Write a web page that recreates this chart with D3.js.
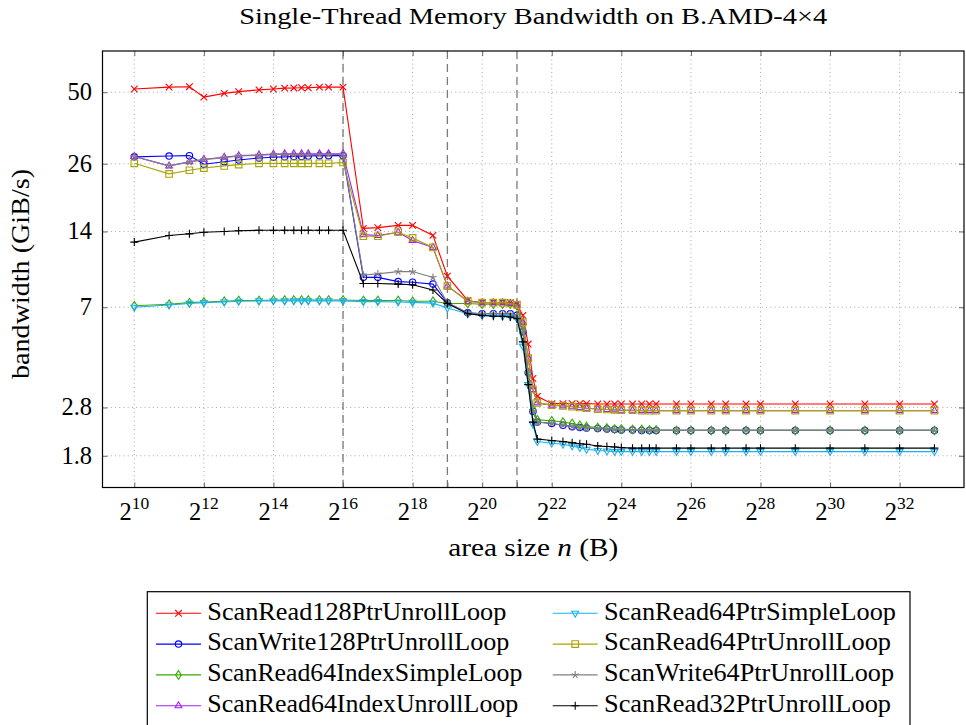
<!DOCTYPE html>
<html><head><meta charset="utf-8">
<script src="https://cdn.jsdelivr.net/npm/d3@7"></script>
<style>
body{margin:0;background:#fff}
svg{display:block}
text{font-family:"Liberation Serif","Times New Roman",serif;fill:#000}
</style>
</head><body>
<svg id="c" width="966" height="725" font-family="Liberation Serif, serif"></svg>
<script>
// ---- data ----
const sizesKiB = [1,2,3,4,6,8,12,16,20,24,28,32,40,48,64,96,128,192,256,384,512,768,1024,1280,1536,1792,2048,2304,2560,2816,3072,4096,5120,6144,7168,8192,10240,12288,14336,16384,20480,24576,28672,32768,49152,65536,98304,131072,196608,262144,524288,1048576,2097152,4194304,8388608];

const scanRead128PtrUnrollLoop = [51.5,52.4,52.6,47.8,49.5,50.3,51.1,51.5,51.9,52.0,
 52.1,52.1,52.4,52.4,52.4,
 14.4,14.5,14.8,14.8,13.5,9.3,7.45,7.3,7.3,7.3,
 7.3,7.2,6.5,5.0,3.65,3.1,
 2.9,2.9,2.9,2.9,2.9,2.89,2.89,2.89,2.89,2.89,
 2.89,2.89,2.89,2.89,2.89,2.89,2.89,2.89,2.89,2.89,
 2.89,2.89,2.89,2.89];
const scanWrite128PtrUnrollLoop = [27.7,27.9,28.0,25.9,26.5,26.9,27.4,27.6,27.7,27.8,
 27.8,27.9,28.0,28.0,28.0,
 9.2,9.2,8.85,8.8,8.65,7.3,6.65,6.6,6.6,6.6,
 6.6,6.5,5.6,3.85,2.7,2.45,
 2.42,2.38,2.35,2.33,2.32,2.31,2.3,2.29,2.28,2.28,
 2.27,2.27,2.27,2.27,2.27,2.27,2.27,2.27,2.27,2.27,
 2.27,2.27,2.27,2.27];
const scanRead64IndexSimpleLoop = [7.1,7.2,7.3,7.35,7.4,7.45,7.45,7.48,7.48,7.48,
 7.48,7.48,7.48,7.48,7.48,
 7.45,7.45,7.45,7.4,7.4,7.25,7.25,7.2,7.2,7.2,
 7.2,7.1,5.7,3.85,2.75,2.5,
 2.48,2.45,2.42,2.38,2.35,2.33,2.32,2.3,2.3,2.29,
 2.29,2.28,2.28,2.27,2.27,2.27,2.27,2.27,2.27,2.27,
 2.27,2.27,2.27,2.27];
const scanRead64IndexUnrollLoop = [27.8,25.5,26.5,27.1,27.6,28.0,28.2,28.4,28.5,28.5,
 28.5,28.5,28.5,28.5,28.5,
 13.6,13.5,13.9,12.9,12.1,8.5,7.4,7.3,7.3,7.3,
 7.25,7.15,6.1,4.4,3.3,2.92,
 2.86,2.84,2.82,2.8,2.78,2.76,2.75,2.74,2.73,2.73,
 2.72,2.72,2.72,2.72,2.72,2.72,2.72,2.72,2.72,2.72,
 2.72,2.72,2.72,2.72];
const scanRead64PtrSimpleLoop = [7.0,7.15,7.25,7.3,7.35,7.4,7.42,7.42,7.42,7.42,
 7.42,7.42,7.42,7.42,7.42,
 7.37,7.37,7.35,7.32,7.27,6.95,6.6,6.5,6.5,6.45,
 6.45,6.3,4.9,3.45,2.4,2.05,
 2.02,2.0,1.97,1.94,1.91,1.89,1.88,1.87,1.87,1.87,
 1.87,1.87,1.87,1.87,1.87,1.87,1.87,1.87,1.87,1.87,
 1.87,1.87,1.87,1.87];
const scanRead64PtrUnrollLoop = [26.1,23.7,24.5,25.0,25.5,25.8,26.1,26.1,26.1,26.1,
 26.1,26.1,26.1,26.1,26.3,
 13.4,13.4,13.9,13.2,12.1,8.5,7.4,7.3,7.3,7.3,
 7.25,7.15,6.1,4.4,3.3,2.92,
 2.86,2.84,2.82,2.8,2.78,2.76,2.75,2.74,2.73,2.73,
 2.72,2.72,2.72,2.72,2.72,2.72,2.72,2.72,2.72,2.72,
 2.72,2.72,2.72,2.72];
const scanWrite64PtrUnrollLoop = [27.8,25.5,26.4,27.0,27.5,27.9,28.1,28.3,28.3,28.3,
 28.3,28.3,28.3,28.3,28.3,
 9.4,9.5,9.7,9.7,9.2,7.3,6.65,6.6,6.6,6.6,
 6.6,6.5,5.6,3.85,2.7,2.45,
 2.42,2.38,2.35,2.33,2.32,2.31,2.3,2.29,2.28,2.28,
 2.27,2.27,2.27,2.27,2.27,2.27,2.27,2.27,2.27,2.27,
 2.27,2.27,2.27,2.27];
const scanRead32PtrUnrollLoop = [12.7,13.5,13.7,13.9,14.0,14.1,14.15,14.15,14.15,14.15,
 14.15,14.15,14.15,14.15,14.15,
 8.7,8.7,8.65,8.6,8.2,7.25,6.6,6.5,6.45,6.45,
 6.4,6.3,5.1,3.45,2.45,2.1,
 2.07,2.05,2.03,2.01,2.0,1.97,1.96,1.95,1.94,1.93,
 1.93,1.93,1.93,1.93,1.93,1.93,1.93,1.93,1.93,1.93,
 1.93,1.93,1.93,1.93];

const seriesNames = ["ScanRead128PtrUnrollLoop","ScanWrite128PtrUnrollLoop","ScanRead64IndexSimpleLoop","ScanRead64IndexUnrollLoop","ScanRead64PtrSimpleLoop","ScanRead64PtrUnrollLoop","ScanWrite64PtrUnrollLoop","ScanRead32PtrUnrollLoop"];
const seriesValues = [scanRead128PtrUnrollLoop,scanWrite128PtrUnrollLoop,scanRead64IndexSimpleLoop,scanRead64IndexUnrollLoop,scanRead64PtrSimpleLoop,scanRead64PtrUnrollLoop,scanWrite64PtrUnrollLoop,scanRead32PtrUnrollLoop];
const seriesColors = ["#ff0000","#0000ff","#3aaa00","#a020f0","#18b2f0","#aaa300","#808080","#000000"];
const seriesMarks = ["x","o","diamond","triangle","triangleDown","square","star","plus"];

const yTicks = [1.8, 2.8, 7, 14, 26, 50];
const xTickExps = [10,12,14,16,18,20,22,24,26,28,30,32];
const boundaryExps = [16,19,21];

const titleText = "Single-Thread Memory Bandwidth on B.AMD-4×4";

// ---- layout ----
const L = 102.5, R = 964, T = 51, B = 487.5;
const legendTextWidths = [299, 302, 315, 311, 292, 287, 290, 287];
const svg = d3.select("#c");

function fit(sel, w){
  sel.attr("textLength", w).attr("lengthAdjust","spacingAndGlyphs");
  return sel;
}

const x = d3.scaleLog().base(2).domain([Math.pow(2,9.086), Math.pow(2,33.85)]).range([L, R]);
const y = d3.scaleLog().domain([1.347, 72.9]).range([B, T]);

const data = seriesValues.map((vals,i)=>({
  name: seriesNames[i], color: seriesColors[i], mark: seriesMarks[i],
  pts: vals.map((v,j)=>({b: sizesKiB[j]*1024, v}))
}));

// grid
const grid = svg.append("g");
xTickExps.forEach(e=>{
  grid.append("line").attr("x1",x(2**e)).attr("x2",x(2**e)).attr("y1",T).attr("y2",B)
    .attr("stroke","#a8a8a8").attr("stroke-width",1).attr("stroke-dasharray","1,3.2");
});
yTicks.forEach(t=>{
  grid.append("line").attr("x1",L).attr("x2",R).attr("y1",y(t)).attr("y2",y(t))
    .attr("stroke","#a8a8a8").attr("stroke-width",1).attr("stroke-dasharray","1,3.2");
});

// boundary dashed lines
boundaryExps.forEach(e=>{
  svg.append("line").attr("x1",x(2**e)).attr("x2",x(2**e)).attr("y1",T).attr("y2",B)
    .attr("stroke","#7a7a7a").attr("stroke-width",1.3).attr("stroke-dasharray","8,5");
});

// axes (ticks inward)
const xAxis = d3.axisBottom(x).tickValues(xTickExps.concat([19,21]).map(e=>2**e)).tickSize(-5).tickFormat("");
const gx = svg.append("g").attr("transform",`translate(0,${B})`).call(xAxis);
gx.select(".domain").remove();
gx.selectAll(".tick line").attr("stroke","#666");
const xAxisTop = d3.axisTop(x).tickValues(xTickExps.map(e=>2**e)).tickSize(-5).tickFormat("");
const gxt = svg.append("g").attr("transform",`translate(0,${T})`).call(xAxisTop);
gxt.select(".domain").remove();
gxt.selectAll(".tick line").attr("stroke","#666");

const yAxis = d3.axisLeft(y).tickValues(yTicks).tickSize(-5).tickFormat("");
const gy = svg.append("g").attr("transform",`translate(${L},0)`).call(yAxis);
gy.select(".domain").remove();
gy.selectAll(".tick line").attr("stroke","#666");
const yAxisR = d3.axisRight(y).tickValues(yTicks).tickSize(-5).tickFormat("");
const gyr = svg.append("g").attr("transform",`translate(${R},0)`).call(yAxisR);
gyr.select(".domain").remove();
gyr.selectAll(".tick line").attr("stroke","#666");

// tick labels
yTicks.forEach(t=>{
  svg.append("text").attr("x",L-10.5).attr("y",y(t)+8).attr("text-anchor","end")
    .attr("font-size",24.5).text(String(t));
});
xTickExps.forEach(e=>{
  const tx = svg.append("text").attr("x",x(2**e)).attr("y",519.5).attr("text-anchor","middle").attr("font-size",24.5);
  tx.append("tspan").text("2");
  tx.append("tspan").attr("dy",-10.5).attr("font-size",17.5).text(String(e));
});

// series
const line = d3.line().x(d=>x(d.b)).y(d=>y(d.v));
function markPath(type){
  const r=3.3;
  switch(type){
    case "x": return `M${-r},${-r}L${r},${r}M${-r},${r}L${r},${-r}`;
    case "plus": return `M${-r-0.7},0L${r+0.7},0M0,${-r-0.7}L0,${r+0.7}`;
    case "diamond": return `M0,-4.3L2.9,0L0,4.3L-2.9,0Z`;
    case "triangle": return `M0,-3.9L3.4,2L-3.4,2Z`;
    case "triangleDown": return `M0,3.9L3.4,-2L-3.4,-2Z`;
    case "square": return `M-3.3,-3.3H3.3V3.3H-3.3Z`;
    case "star": {
      let p="";
      for(let k=0;k<5;k++){const a=-Math.PI/2+k*2*Math.PI/5;p+=`M0,0L${(r+0.5)*Math.cos(a)},${(r+0.5)*Math.sin(a)}`;}
      return p;
    }
  }
  return "";
}
function drawMark(g, type, color, cx, cy){
  if(type==="o"){
    g.append("circle").attr("cx",cx).attr("cy",cy).attr("r",3.2).attr("fill","none").attr("stroke",color).attr("stroke-width",1.1);
  } else {
    g.append("path").attr("transform",`translate(${cx},${cy})`).attr("d",markPath(type))
      .attr("fill","none").attr("stroke",color).attr("stroke-width",1.1);
  }
}
const plot = svg.append("g");
data.forEach(s=>{
  const g = plot.append("g");
  g.append("path").datum(s.pts).attr("d",line).attr("fill","none").attr("stroke",s.color).attr("stroke-width",1.1);
  s.pts.forEach(p=>drawMark(g, s.mark, s.color, x(p.b), y(p.v)));
});

// frame
svg.append("rect").attr("x",L).attr("y",T).attr("width",R-L).attr("height",B-T)
  .attr("fill","none").attr("stroke","#000").attr("stroke-width",1.2);

// title & axis labels
fit(svg.append("text").attr("x",(L+R)/2).attr("y",24).attr("text-anchor","middle").attr("font-size",24).text(titleText), 588);
const xl = svg.append("text").attr("x",(L+R)/2).attr("y",555.5).attr("text-anchor","middle").attr("font-size",24.5);
xl.append("tspan").text("area size ");
xl.append("tspan").attr("font-style","italic").text("n");
xl.append("tspan").text(" (B)");
fit(xl, 170);
fit(svg.append("text").attr("transform",`translate(28.5,274) rotate(-90)`).attr("text-anchor","middle")
  .attr("font-size",24.5).text("bandwidth (GiB/s)"), 210);

// legend
const lg = svg.append("g");
lg.append("rect").attr("x",147.3).attr("y",591.7).attr("width",910-147.3).attr("height",160)
  .attr("fill","#fff").attr("stroke","#000").attr("stroke-width",1.2);
data.forEach((s,i)=>{
  const col = Math.floor(i/4), row = i%4;
  const x0 = col===0 ? 156 : 552.7;
  const yy = 613.3 + row*30.8;
  lg.append("line").attr("x1",x0).attr("x2",x0+45).attr("y1",yy).attr("y2",yy).attr("stroke",s.color).attr("stroke-width",1.1);
  drawMark(lg, s.mark, s.color, x0+22.5, yy);
  fit(lg.append("text").attr("x",x0+51.3).attr("y",yy+6.3).attr("font-size",24.5).text(s.name), legendTextWidths[i]);
});
</script>
</body></html>
